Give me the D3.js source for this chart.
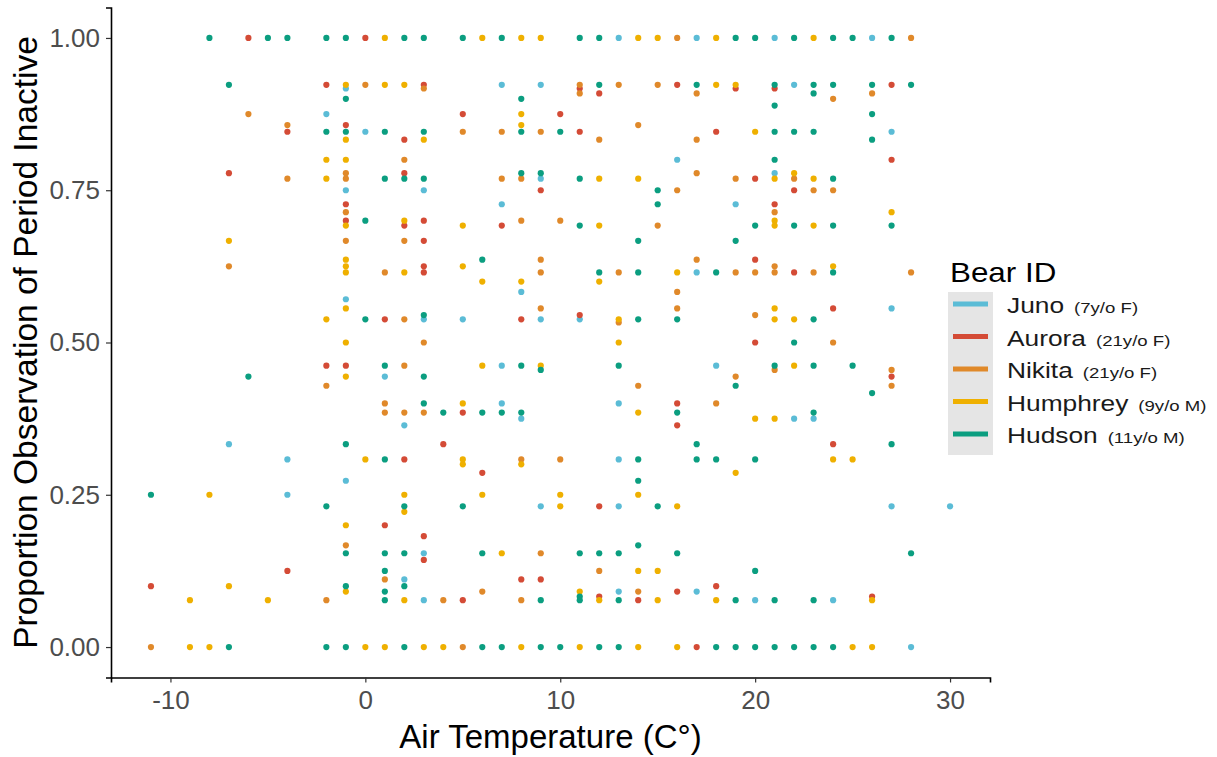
<!DOCTYPE html>
<html><head><meta charset="utf-8">
<script src="https://cdn.jsdelivr.net/npm/d3@7"></script>
<style>body{margin:0;background:#fff}svg{display:block}text{font-family:"Liberation Sans",Arial,sans-serif}</style>
</head><body><svg id="c" width="1217" height="757"></svg>
<script>
const bears = ["Juno","Aurora","Nikita","Humphrey","Hudson"];
const bearInfo = ["(7y/o F)","(21y/o F)","(21y/o F)","(9y/o M)","(11y/o M)"];
const colors = ["#5BBCD6","#D44B36","#E0892A","#EFB000","#0B9E80"];
const xTicks = [-10,0,10,20,30];
const yTicks = [0,0.25,0.5,0.75,1];

// [temperature, proportion inactive]
const juno = [[-7,0.333],[-4,0.308],[-4,0.25],[-2,0.875],[-1,0.917],[-1,0.75],[-1,0.571],[-1,0.273],[0,0.846],[1,0.444],
 [2,0.364],[2,0.111],[3,0.75],[3,0.538],[3,0.154],[3,0.077],[5,0.538],[7,0.923],[7,0.727],[7,0.462],[7,0.4],
 [8,0.583],[8,0.375],[9,0.923],[9,0.769],[9,0.538],[9,0.231],[11,0.538],[13,1],[13,0.4],[13,0.308],[13,0.231],[13,0.091],
 [16,0.8],[17,1],[17,0.615],[17,0.091],[18,0.462],[19,0.727],[20,0.077],[21,1],[21,0.778],[22,0.923],[22,0.375],
 [23,0.375],[24,0.077],[26,1],[27,0.846],[27,0.556],[27,0.231],[28,0],[30,0.231]];
const aurora = [[-11,0.1],[-7,0.778],[-6,1],[-4,0.846],[-4,0.125],[-2,0.923],[-2,0.462],[-1,0.857],[-1,0.727],[-1,0.7],[-1,0.462],
 [0,1],[1,0.538],[1,0.2],[2,0.833],[2,0.778],[2,0.692],[2,0.308],[3,0.923],[3,0.7],[3,0.667],[3,0.625],[3,0.615],[3,0.182],[3,0.143],
 [4,0.333],[5,0.875],[5,0.385],[5,0.077],[6,0.286],[7,0.692],[8,0.538],[8,0.111],[9,0.75],[9,0.111],[10,0.875],
 [11,0.917],[11,0.846],[11,0.545],[12,0.909],[12,0.231],[12,0.083],[14,0.077],[16,0.923],[16,0.4],[16,0.364],[16,0.091],
 [17,0],[18,0.846],[18,0.1],[19,0.917],[20,0.769],[20,0.636],[20,0.5],[21,0.917],[21,0.727],[22,0.75],[22,0.615],
 [24,0.556],[24,0.333],[26,0.083],[27,0.923],[27,0.8],[27,0.444]];
const nikita = [[-11,0],[-7,0.625],[-6,0.875],[-4,0.857],[-4,0.769],[-2,0.429],[-2,0.077],[-1,0.778],[-1,0.769],[-1,0.714],[-1,0.667],[-1,0.167],
 [0,0.923],[1,0.615],[1,0.4],[1,0.385],[1,0.111],[2,0.8],[2,0.667],[2,0.538],[2,0.462],[2,0.385],[3,0.917],[3,0.5],[3,0.385],
 [4,0.077],[5,0.846],[5,0],[6,0.091],[7,0.846],[7,0.769],[8,0.769],[8,0.7],[8,0.308],[8,0.077],
 [9,0.846],[9,0.636],[9,0.615],[9,0.556],[9,0.154],[10,0.7],[10,0.308],[11,0.923],[11,0.909],[12,0.833],[12,0.125],
 [13,0.923],[13,0.615],[13,0.533],[14,0.857],[14,0.429],[14,0.091],[15,0.923],[15,0.692],[16,1],[16,0.75],[16,0.583],[16,0.556],
 [17,0.909],[17,0.833],[17,0.778],[17,0.636],[18,0.4],[19,0.769],[19,0.615],[19,0.444],[20,0.615],[20,0.545],
 [21,0.714],[21,0.625],[21,0.615],[21,0.455],[22,0.769],[23,0.75],[23,0.615],[24,0.9],[24,0.75],[24,0.5],
 [26,0.909],[27,0.455],[27,0.429],[28,1],[28,0.615]];
const humphrey = [[-9,0.077],[-9,0],[-8,0.25],[-8,0],[-7,0.667],[-7,0.1],[-5,0.077],[-2,0.8],[-2,0.769],[-2,0.538],
 [-1,0.923],[-1,0.833],[-1,0.8],[-1,0.692],[-1,0.636],[-1,0.625],[-1,0.615],[-1,0.556],[-1,0.5],[-1,0.444],[-1,0.2],[-1,0.091],
 [0,0.308],[0,0],[1,1],[1,0.923],[1,0],[2,0.923],[2,0.7],[2,0.615],[2,0.25],[2,0.222],[2,0.077],[3,0.833],[3,0],[4,0],
 [5,0.692],[5,0.625],[5,0.4],[5,0.308],[5,0.3],[6,1],[6,0.6],[6,0.462],[6,0.25],[7,0.154],
 [8,1],[8,0.875],[8,0.857],[8,0.6],[8,0.3],[8,0],[9,1],[9,0.462],[10,0.25],[10,0.231],[11,0.091],[11,0],
 [12,0.769],[12,0.692],[12,0.6],[12,0.077],[13,0.538],[13,0.5],[14,1],[14,0.769],[14,0.385],[14,0.25],[14,0.125],[14,0],
 [15,1],[15,0.125],[15,0.077],[16,0.615],[16,0.231],[16,0],[18,1],[18,0.923],[18,0.077],[19,0.923],[19,0.286],
 [20,0.846],[20,0.375],[21,0.769],[21,0.7],[21,0.692],[21,0.556],[21,0.538],[21,0.375],[22,0.778],[22,0.538],[22,0.462],
 [23,1],[23,0.769],[23,0.692],[24,0.625],[24,0.308],[25,0.308],[25,0],[26,0.077],[26,0],[27,0.714]];
const hudson = [[-11,0.25],[-8,1],[-7,0.923],[-7,0],[-6,0.444],[-5,1],[-4,1],[-2,1],[-2,0.846],[-2,0.231],[-2,0],
 [-1,1],[-1,0.9],[-1,0.846],[-1,0.333],[-1,0.154],[-1,0.1],[-1,0],[0,0.7],[0,0.538],
 [1,0.846],[1,0.769],[1,0.462],[1,0.308],[1,0.154],[1,0.125],[1,0.091],[1,0.077],[2,1],[2,0.769],[2,0.231],[2,0.154],[2,0.1],[2,0],
 [3,1],[3,0.846],[3,0.769],[3,0.545],[3,0.444],[3,0.4],[4,0.385],[5,1],[5,0.231],[6,0.636],[6,0.385],[6,0.154],[6,0],
 [7,1],[7,0.385],[7,0],[8,0.9],[8,0.846],[8,0.778],[8,0.462],[8,0.385],[9,0.778],[9,0.455],[9,0.077],[9,0],[10,0.846],[10,0],
 [11,1],[11,0.769],[11,0.692],[11,0.154],[11,0.083],[11,0.077],[12,1],[12,0.923],[12,0.615],[12,0.154],[12,0],
 [13,0.462],[13,0.154],[13,0.077],[13,0],[14,0.667],[14,0.615],[14,0.538],[14,0.308],[14,0.273],[14,0.167],
 [15,0.75],[15,0.727],[15,0.231],[16,0.538],[16,0.385],[16,0.154],[17,0.923],[17,0.333],[17,0.308],[18,0.615],[18,0.308],[18,0],
 [19,1],[19,0.667],[19,0.429],[19,0.077],[19,0],[20,1],[20,0.692],[20,0.308],[20,0.125],[20,0],
 [21,0.923],[21,0.889],[21,0.846],[21,0.8],[21,0.462],[21,0.077],[21,0],[22,1],[22,0.846],[22,0.692],[22,0.5],[22,0],
 [23,0.923],[23,0.909],[23,0.846],[23,0.538],[23,0.462],[23,0.385],[23,0.077],[23,0],[24,1],[24,0.923],[24,0.769],[24,0.692],[24,0.615],[24,0],
 [25,1],[25,0.462],[26,0.923],[26,0.875],[26,0.833],[26,0.417],[27,1],[27,0.692],[27,0.333],[28,0.923],[28,0.154]];
const series = [juno, aurora, nikita, humphrey, hudson];

const svg = d3.select("#c");
const L = 111, R = 990, T = 7.5, B = 677.5;
const x = d3.scaleLinear().domain([-13.05, 32.05]).range([L, R]);
const y = d3.scaleLinear().domain([-0.05, 1.05]).range([B, T]);

// points
series.forEach((s, i) => {
  svg.append("g").selectAll("circle").data(s).join("circle")
    .attr("cx", d => x(d[0])).attr("cy", d => y(d[1])).attr("r", 3.1)
    .attr("fill", colors[i]);
});

// axes
const xa = svg.append("g").attr("transform", `translate(0,${B})`)
  .call(d3.axisBottom(x).tickValues(xTicks).tickSize(5).tickPadding(8).tickFormat(d3.format("d")));
const ya = svg.append("g").attr("transform", `translate(${L},0)`)
  .call(d3.axisLeft(y).tickValues(yTicks).tickSize(5).tickPadding(6).tickFormat(d3.format(".2f")));
[xa, ya].forEach(a => {
  a.select(".domain").attr("stroke", "#000").attr("stroke-width", 1.6);
  a.selectAll(".tick line").attr("stroke", "#333").attr("stroke-width", 1.2);
  a.selectAll(".tick text").attr("fill", "#4D4D4D").style("font-size", "26px")
   .style("font-family", '"Liberation Sans",Arial,sans-serif');
});
xa.selectAll(".tick text").text(d => d < 0 ? "-" + Math.abs(d) : d);

// titles
svg.append("text").attr("x", (L + R) / 2).attr("y", 748).attr("text-anchor", "middle")
  .style("font-size", "33px").attr("fill", "#000").text("Air Temperature (C°)");
svg.append("text").attr("transform", `translate(37,${(T + B) / 2}) rotate(-90)`).attr("text-anchor", "middle")
  .style("font-size", "33.5px").attr("fill", "#000").text("Proportion Observation of Period Inactive");

// legend
const lg = svg.append("g");
lg.append("text").attr("transform", "translate(950,282) scale(1.12,1)").style("font-size", "28px")
  .attr("fill", "#000").text("Bear ID");
lg.append("rect").attr("x", 948).attr("y", 292).attr("width", 45).attr("height", 163).attr("fill", "#E5E5E5");
const ly = d3.scalePoint().domain(bears).range([304, 434]);
bears.forEach((b, i) => {
  lg.append("line").attr("x1", 953).attr("x2", 988).attr("y1", ly(b)).attr("y2", ly(b))
    .attr("stroke", colors[i]).attr("stroke-width", 5);
  const nm = lg.append("text").attr("transform", `translate(1007,${ly(b) + 9}) scale(1.17,1)`)
    .style("font-size", "22.5px").attr("fill", "#1a1a1a").text(b);
  const w = nm.node().getComputedTextLength() * 1.17;
  lg.append("text").attr("transform", `translate(${1007 + w + 10},${ly(b) + 9}) scale(1.2,1)`)
    .style("font-size", "15.5px").attr("fill", "#1a1a1a").text(bearInfo[i]);
});
</script></body></html>
